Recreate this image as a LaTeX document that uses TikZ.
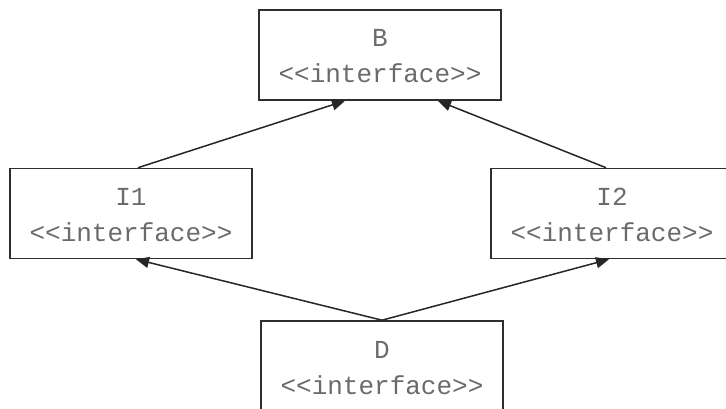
\documentclass[tikz,border=0pt]{standalone}
\usepackage{fontspec}
\newfontfamily\umlfont{Liberation Mono}
\usetikzlibrary{arrows.meta}
\newcommand\ifacetext[1]{\raisebox{8pt}[0pt][0pt]{\begin{tabular}[t]{@{}c@{}}#1\\<<interface>>\end{tabular}}}
\begin{document}
\begin{tikzpicture}[x=1pt,y=-1pt,
  box/.style={draw=black!82, line width=1.6pt, minimum width=242pt, minimum height=90pt,
    inner sep=0pt, font=\umlfont\fontsize{26}{36}\selectfont, text=black!58},
  arr/.style={-{Triangle[length=13pt,width=11pt]}, line width=1.5pt, draw=black!85}]
\useasboundingbox (0,0) rectangle (726,409);
\node[box] (B)  at (380,55)    {\ifacetext{B}};
\node[box] (I1) at (131,213.5) {\ifacetext{I1}};
\node[box] (I2) at (612,213.5) {\ifacetext{I2}};
\node[box] (D)  at (382,366)   {\ifacetext{D}};
\draw[arr] ([xshift=7pt]I1.north) -- ([xshift=-35pt]B.south);
\draw[arr] ([xshift=-6pt]I2.north) -- ([xshift=58pt]B.south);
\draw[arr] (D.north) -- ([xshift=5pt]I1.south);
\draw[arr] (D.north) -- ([xshift=-3pt]I2.south);
\end{tikzpicture}
\end{document}
